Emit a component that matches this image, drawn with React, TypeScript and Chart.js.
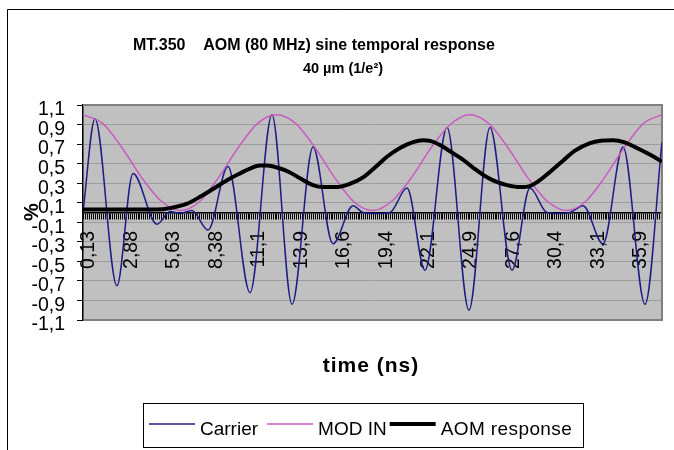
import React, { useEffect, useRef } from "react";
import { Chart, registerables } from "chart.js";

Chart.register(...registerables);

// ---- text ----
const titleLine1 = "MT.350    AOM (80 MHz) sine temporal response";
const titleLine2 = "40 µm (1/e²)";
const yAxisTitle = "%";
const xAxisTitle = "time (ns)";
const seriesNames = ["Carrier", "MOD IN", "AOM response"];
const seriesColors = ["#1c1c86", "#c95cc0", "#000000"];
const seriesWidths = [1.5, 1.5, 4];

// ---- axes ----
const xTickValues = [0.125, 2.875, 5.625, 8.375, 11.125, 13.875, 16.625, 19.375, 22.125, 24.875, 27.625, 30.375, 33.125, 35.875];
const xTickLabels = ["0,13", "2,88", "5,63", "8,38", "11,1", "13,9", "16,6", "19,4", "22,1", "24,9", "27,6", "30,4", "33,1", "35,9"];
const yTickValues = [1.1, 0.9, 0.7, 0.5, 0.3, 0.1, -0.1, -0.3, -0.5, -0.7, -0.9, -1.1];
const yTickLabels = ["1,1", "0,9", "0,7", "0,5", "0,3", "0,1", "-0,1", "-0,3", "-0,5", "-0,7", "-0,9", "-1,1"];
const sampleStep = 0.125; // ns per category (tick mark spacing)
const sampleCount = 300;
const xMin = 0.0625;
const xMax = 37.5625;

// ---- series (time in ns, value) ----
const carrierTime = [0.06, 0.84, 2.26, 3.3, 4.85, 5.7, 6.35, 7.12, 8.16, 9.45, 10.88, 12.3, 13.6, 14.96, 16.25, 17.55, 18.2, 19.17, 19.94, 21.05, 22.21, 23.64, 25.06, 26.42, 27.85, 29.01, 30.11, 30.83, 31.6, 32.45, 33.74, 35.04, 36.46, 37.56];
const carrierValue = [0.0, 0.96, -0.75, 0.4, -0.12, 0.01, -0.01, 0.02, -0.18, 0.47, -0.82, 1.0, -0.94, 0.67, -0.32, 0.07, 0.0, -0.01, 0.0, 0.25, -0.59, 0.87, -1.0, 0.87, -0.59, 0.25, 0.0, -0.01, 0.0, 0.07, -0.32, 0.67, -0.94, 0.72];

const modTime = [0.06, 1.35, 2.6, 3.85, 5.1, 6.35, 7.6, 8.85, 10.1, 11.35, 12.6, 13.85, 15.1, 16.35, 17.6, 18.85, 20.1, 21.35, 22.6, 23.85, 25.1, 26.35, 27.6, 28.85, 30.1, 31.35, 32.6, 33.85, 35.1, 36.35, 37.56];
const modValue = [1.0, 0.91, 0.66, 0.36, 0.12, 0.02, 0.11, 0.36, 0.66, 0.91, 1.0, 0.91, 0.66, 0.36, 0.11, 0.02, 0.12, 0.36, 0.66, 0.9, 1.0, 0.91, 0.66, 0.36, 0.12, 0.02, 0.11, 0.36, 0.66, 0.91, 1.0];

const aomTime = [0.06, 1.0, 2.0, 3.0, 4.0, 4.85, 5.7, 6.8, 7.64, 8.48, 9.39, 10.23, 10.88, 11.53, 12.0, 12.63, 13.47, 14.12, 14.96, 15.61, 16.51, 17.3, 18.2, 19.04, 19.75, 20.59, 21.44, 22.08, 22.6, 23.18, 23.9, 24.67, 25.4, 26.23, 26.9, 27.52, 28.37, 29.0, 29.47, 30.2, 31.15, 31.9, 32.9, 33.6, 34.39, 35.1, 35.94, 36.8, 37.56];
const aomValue = [0.03, 0.03, 0.03, 0.03, 0.03, 0.03, 0.045, 0.09, 0.16, 0.24, 0.33, 0.4, 0.45, 0.48, 0.48, 0.46, 0.41, 0.35, 0.28, 0.26, 0.26, 0.29, 0.36, 0.47, 0.57, 0.66, 0.72, 0.74, 0.73, 0.69, 0.62, 0.54, 0.45, 0.36, 0.31, 0.28, 0.26, 0.27, 0.31, 0.4, 0.53, 0.63, 0.71, 0.735, 0.74, 0.72, 0.66, 0.59, 0.52];

const FONT = "'Liberation Sans', Arial, sans-serif";

const toPoints = (ts: number[], vs: number[]) => ts.map((t, i) => ({ x: t, y: vs[i] }));

const decorPlugin = {
  id: "decor",
  beforeDraw(chart: any) {
    const { ctx, chartArea: a } = chart;
    ctx.save();
    ctx.fillStyle = "#ffffff";
    ctx.fillRect(0, 0, chart.width, chart.height);
    ctx.strokeStyle = "#000000";
    ctx.lineWidth = 1;
    ctx.beginPath();
    ctx.moveTo(7.5, chart.height + 2);
    ctx.lineTo(7.5, 9.5);
    ctx.lineTo(chart.width + 2, 9.5);
    ctx.stroke();
    ctx.fillStyle = "#c0c0c0";
    ctx.fillRect(a.left, a.top, a.right - a.left, a.bottom - a.top);
    ctx.restore();
  },
  beforeDatasetsDraw(chart: any) {
    const { ctx, chartArea: a } = chart;
    ctx.save();
    ctx.strokeStyle = "#808080";
    ctx.lineWidth = 2;
    ctx.beginPath();
    ctx.moveTo(a.left, a.top);
    ctx.lineTo(a.right, a.top);
    ctx.lineTo(a.right, a.bottom);
    ctx.lineTo(a.left + 1, a.bottom);
    ctx.stroke();
    ctx.restore();
  },
  afterDraw(chart: any) {
    const { ctx } = chart;
    ctx.save();
    ctx.fillStyle = "#000000";
    // titles
    ctx.textBaseline = "alphabetic";
    ctx.font = `bold 16px ${FONT}`;
    ctx.textAlign = "left";
    ctx.fillText(titleLine1, 133, 50);
    ctx.font = `bold 14.5px ${FONT}`;
    ctx.textAlign = "center";
    ctx.fillText(titleLine2, 343, 73);
    // x axis title
    ctx.font = `bold 21px ${FONT}`;
    (ctx as any).letterSpacing = "1px";
    ctx.fillText(xAxisTitle, 371, 372);
    (ctx as any).letterSpacing = "0px";
    // y axis title
    ctx.save();
    ctx.translate(32, 212);
    ctx.rotate(-Math.PI / 2);
    ctx.font = `bold 20px ${FONT}`;
    ctx.textBaseline = "middle";
    ctx.fillText(yAxisTitle, 0, 0);
    ctx.restore();
    // legend
    ctx.strokeStyle = "#000000";
    ctx.lineWidth = 1;
    ctx.strokeRect(143.5, 403.5, 440, 44);
    ctx.font = `19px ${FONT}`;
    ctx.textAlign = "left";
    let x = 149;
    const lineY = 424;
    seriesNames.forEach((name, i) => {
      ctx.strokeStyle = seriesColors[i];
      ctx.lineWidth = seriesWidths[i];
      ctx.beginPath();
      ctx.moveTo(x, lineY);
      ctx.lineTo(x + 46, lineY);
      ctx.stroke();
      ctx.fillStyle = "#000000";
      if (i === 2) (ctx as any).letterSpacing = "0.4px";
      ctx.fillText(name, x + 51, 435);
      x += 51 + ctx.measureText(name).width + (i === 0 ? 9 : 3);
    });
    (ctx as any).letterSpacing = "0px";
    ctx.restore();
  },
};

export default function App() {
  const canvasRef = useRef<HTMLCanvasElement | null>(null);

  useEffect(() => {
    if (!canvasRef.current) return;
    const chart = new Chart(canvasRef.current, {
      type: "line",
      data: {
        datasets: [
          {
            label: seriesNames[0],
            data: toPoints(carrierTime, carrierValue),
            borderColor: seriesColors[0],
            borderWidth: seriesWidths[0],
            pointRadius: 0,
            cubicInterpolationMode: "monotone",
            order: 2,
          },
          {
            label: seriesNames[1],
            data: toPoints(modTime, modValue),
            borderColor: seriesColors[1],
            borderWidth: seriesWidths[1],
            pointRadius: 0,
            cubicInterpolationMode: "monotone",
            order: 1,
          },
          {
            label: seriesNames[2],
            data: toPoints(aomTime, aomValue),
            borderColor: seriesColors[2],
            borderWidth: seriesWidths[2],
            pointRadius: 0,
            cubicInterpolationMode: "monotone",
            order: 0,
          },
        ],
      },
      options: {
        animation: false,
        responsive: false,
        devicePixelRatio: 1,
        layout: { padding: { left: 23, top: 105, right: 12, bottom: 130 } },
        plugins: {
          legend: { display: false },
          title: { display: false },
          tooltip: { enabled: false },
        },
        scales: {
          x: {
            type: "linear",
            position: { y: 0 } as any,
            min: xMin,
            max: xMax,
            afterBuildTicks: (scale: any) => {
              const ticks = [];
              for (let k = 1; k <= sampleCount; k++) ticks.push({ value: k * sampleStep });
              scale.ticks = ticks;
            },
            afterFit: (scale: any) => {
              scale.paddingLeft = 0;
              scale.paddingRight = 0;
            },
            ticks: {
              autoSkip: false,
              minRotation: 90,
              maxRotation: 90,
              labelOffset: 5,
              padding: 12.5,
              color: "#000000",
              font: { family: FONT, size: 19.5 },
              callback: (value: any) => {
                const i = xTickValues.findIndex((v) => Math.abs(v - Number(value)) < 1e-6);
                return i >= 0 ? xTickLabels[i] : "";
              },
            },
            grid: {
              display: true,
              drawOnChartArea: false,
              drawTicks: true,
              tickLength: 6,
              tickColor: "#000000",
              color: "#000000",
              lineWidth: 1,
            },
            border: { display: true, color: "#000000", width: 1.5 },
          },
          y: {
            type: "linear",
            position: "left",
            min: -1.1,
            max: 1.1,
            afterBuildTicks: (scale: any) => {
              scale.ticks = yTickValues.map((v) => ({ value: v }));
            },
            afterFit: (scale: any) => {
              scale.width = 60;
            },
            ticks: {
              autoSkip: false,
              padding: 12,
              labelOffset: 5,
              color: "#000000",
              font: { family: FONT, size: 19.5, lineHeight: 1 },
              callback: (_v: any, index: number) => yTickLabels[index],
            },
            grid: {
              color: "#9c9c9c",
              tickColor: "#000000",
              tickLength: 6,
              lineWidth: 1,
            },
            border: { display: true, color: "#000000", width: 1.5 },
          },
        },
      },
      plugins: [decorPlugin],
    } as any);
    return () => chart.destroy();
  }, []);

  return (
    <div style={{ position: "absolute", left: 0, top: 0, width: 674, height: 450, overflow: "hidden", background: "#fff" }}>
      <canvas ref={canvasRef} width={674} height={450} style={{ display: "block" }} />
    </div>
  );
}
